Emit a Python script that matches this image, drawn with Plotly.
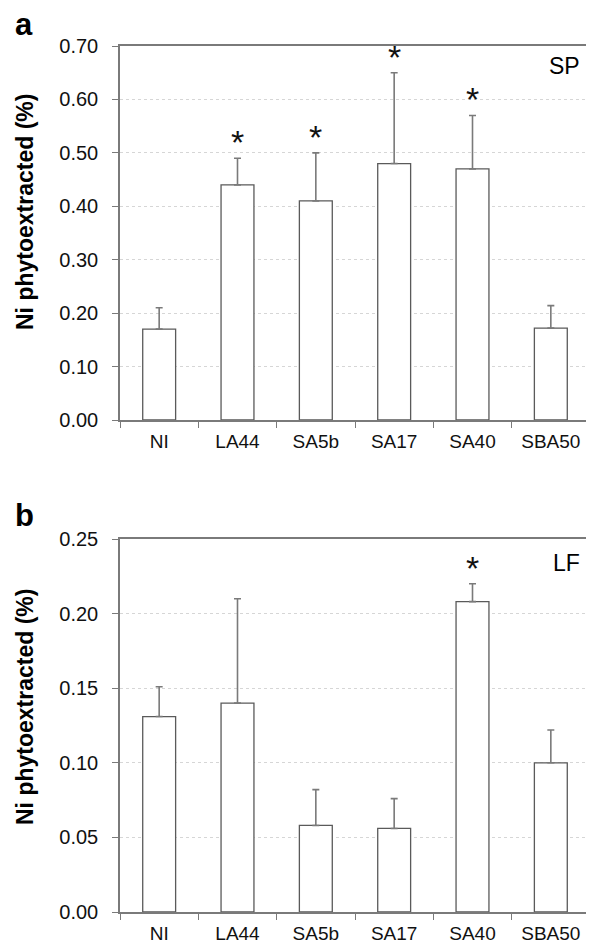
import plotly.graph_objects as go

categories = ["NI", "LA44", "SA5b", "SA17", "SA40", "SBA50"]
sp_means = [0.17, 0.44, 0.41, 0.48, 0.47, 0.172]
sp_errs = [0.04, 0.05, 0.09, 0.17, 0.10, 0.042]
sp_sig = [False, True, True, True, True, False]
lf_means = [0.131, 0.14, 0.058, 0.056, 0.208, 0.10]
lf_errs = [0.020, 0.070, 0.024, 0.020, 0.012, 0.022]
lf_sig = [False, False, False, False, True, False]
sp_ticks = [0.0, 0.1, 0.2, 0.3, 0.4, 0.5, 0.6, 0.7]
lf_ticks = [0.0, 0.05, 0.10, 0.15, 0.20, 0.25]

# the page has an 8px body margin; size the figure so it fills the visible window
OFF = 8
W, H = 594 - OFF, 947 - OFF
FONT = "Liberation Sans, Arial, sans-serif"
GRAY = "#7a7a7a"


def px(x):
    return (x - OFF) / W


def py(y):
    return 1 - (y - OFF) / H


fig = go.Figure()


def add_panel(means, errs, xa, ya):
    fig.add_trace(go.Bar(
        x=categories, y=means, xaxis=xa, yaxis=ya,
        width=0.42,
        marker=dict(color="white", line=dict(color="#5a5a5a", width=1.3)),
        error_y=dict(type="data", array=errs, symmetric=False,
                     arrayminus=[0] * len(errs),
                     color=GRAY, thickness=1.6, width=3.5),
        showlegend=False, hoverinfo="skip",
    ))


add_panel(sp_means, sp_errs, "x", "y")
add_panel(lf_means, lf_errs, "x2", "y2")

xd = [px(120), px(590)]
top_dom = [py(420), py(46)]
bot_dom = [py(912), py(539)]


def xaxis_cfg(anchor):
    return dict(domain=xd, anchor=anchor, type="category", automargin=False,
                tickson="boundaries", ticks="outside", ticklen=6,
                tickcolor=GRAY, tickwidth=1.3, ticklabelstandoff=3,
                showline=True, linecolor=GRAY, linewidth=1.5, mirror=True,
                showgrid=False, tickfont=dict(family=FONT, size=19, color="#111"),
                fixedrange=True)


def yaxis_cfg(anchor, dom, ticks, rng):
    return dict(domain=dom, anchor=anchor, range=rng, tickvals=ticks,
                automargin=False,
                tickformat=".2f", ticks="outside", ticklen=6,
                tickcolor=GRAY, tickwidth=1.3, ticklabelstandoff=10,
                showline=True, linecolor=GRAY, linewidth=1.5, mirror=True,
                showgrid=True, gridcolor="#d6d6d6", griddash="dot", gridwidth=1,
                zeroline=False,
                tickfont=dict(family=FONT, size=20, color="#111"),
                fixedrange=True)


fig.update_layout(
    width=W, height=H,
    margin=dict(l=0, r=0, t=0, b=0),
    paper_bgcolor="white", plot_bgcolor="white",
    xaxis=xaxis_cfg("y"),
    yaxis=yaxis_cfg("x", top_dom, sp_ticks, [0, 0.70]),
    xaxis2=xaxis_cfg("y2"),
    yaxis2=yaxis_cfg("x2", bot_dom, lf_ticks, [0, 0.25]),
)

ann = []


def add_stars(means, errs, sig, xr, yr):
    for cat, m, e, s in zip(categories, means, errs, sig):
        if s:
            ann.append(dict(x=cat, y=m + e, xref=xr, yref=yr, text="*",
                            showarrow=False, yanchor="bottom", yshift=-5,
                            font=dict(family=FONT, size=34, color="#111")))


add_stars(sp_means, sp_errs, sp_sig, "x", "y")
add_stars(lf_means, lf_errs, lf_sig, "x2", "y2")

ann += [
    dict(x=px(13), y=py(24), xref="paper", yref="paper", text="<b>a</b>",
         showarrow=False, xanchor="left", yanchor="middle",
         font=dict(family=FONT, size=31, color="#000")),
    dict(x=px(13), y=py(515), xref="paper", yref="paper", text="<b>b</b>",
         showarrow=False, xanchor="left", yanchor="middle",
         font=dict(family=FONT, size=31, color="#000")),
    dict(x=px(582), y=py(66), xref="paper", yref="paper", text="SP",
         showarrow=False, xanchor="right", yanchor="middle",
         font=dict(family=FONT, size=23, color="#000")),
    dict(x=px(582), y=py(563), xref="paper", yref="paper", text="LF",
         showarrow=False, xanchor="right", yanchor="middle",
         font=dict(family=FONT, size=23, color="#000")),
    dict(x=px(25), y=py(212), xref="paper", yref="paper",
         text="<b>Ni phytoextracted (%)</b>", textangle=-90,
         showarrow=False, xanchor="center", yanchor="middle",
         font=dict(family=FONT, size=23, color="#000")),
    dict(x=px(25), y=py(707), xref="paper", yref="paper",
         text="<b>Ni phytoextracted (%)</b>", textangle=-90,
         showarrow=False, xanchor="center", yanchor="middle",
         font=dict(family=FONT, size=23, color="#000")),
]
fig.update_layout(annotations=ann)

fig.write_html("out.html")
